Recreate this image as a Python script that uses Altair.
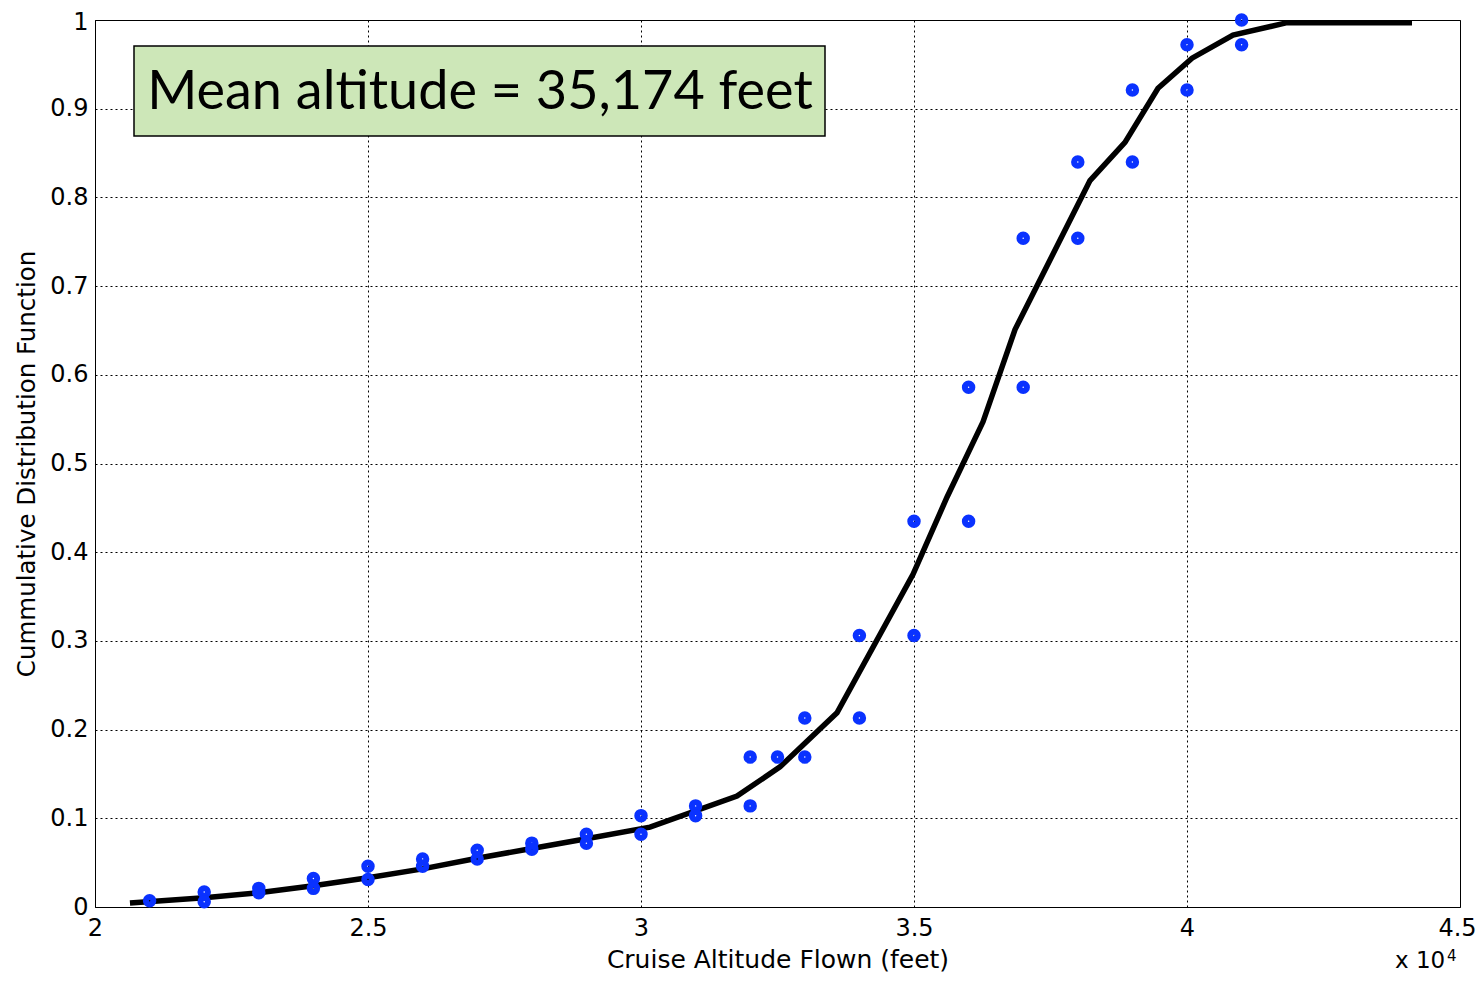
import altair as alt
import pandas as pd

# Observed points (altitude in feet, empirical CDF)
pt_alt = [21000, 22000, 22000, 23000, 23000, 24000, 24000, 25000, 25000,
          26000, 26000, 27000, 27000, 28000, 28000, 29000, 29000, 30000, 30000,
          31000, 31000, 32000, 32000, 32500, 33000, 33000, 34000, 34000,
          35000, 35000, 36000, 36000, 37000, 37000, 38000, 38000, 39000, 39000,
          40000, 40000, 41000, 41000]
pt_cdf = [0.007, 0.017, 0.006, 0.021, 0.016, 0.032, 0.021, 0.046, 0.031,
          0.054, 0.046, 0.064, 0.054, 0.072, 0.065, 0.082, 0.072, 0.103, 0.082,
          0.114, 0.103, 0.169, 0.114, 0.169, 0.213, 0.169, 0.306, 0.213,
          0.435, 0.306, 0.586, 0.435, 0.754, 0.586, 0.840, 0.754, 0.921, 0.840,
          0.972, 0.921, 1.000, 0.972]

# Fitted CDF curve
line_alt = [20640, 22000, 23000, 24000, 25000, 26000, 27000, 28000, 29000,
            30165, 31758, 32546, 33590, 34982, 35604, 36264, 36850, 38223,
            38864, 39469, 40092, 40842, 41832, 44121]
line_cdf = [0.0045, 0.0105, 0.016, 0.024, 0.033, 0.043, 0.055, 0.066, 0.077,
            0.090, 0.125, 0.158, 0.219, 0.375, 0.462, 0.547, 0.651, 0.819,
            0.862, 0.923, 0.957, 0.983, 0.997, 0.997]

x_ticks = [20000, 25000, 30000, 35000, 40000, 45000]
y_ticks = [0, 0.1, 0.2, 0.3, 0.4, 0.5, 0.6, 0.7, 0.8, 0.9, 1.0]

annotation = "Mean altitude = 35,174 feet"

pts = pd.DataFrame({"alt": pt_alt, "cdf": pt_cdf})
fit = pd.DataFrame({"alt": line_alt, "cdf": line_cdf})

FONT = "DejaVu Sans"

xscale = alt.Scale(domain=[20000, 45000], nice=False, zero=False)
yscale = alt.Scale(domain=[0, 1], nice=False)

xaxis = alt.Axis(values=x_ticks, labelExpr="datum.value / 10000",
                 title="Cruise Altitude Flown (feet)", grid=True,
                 gridDash=[2, 3], gridColor="black", gridOpacity=1, gridWidth=1,
                 ticks=False, domain=False, labelFont=FONT, labelFontSize=24,
                 labelColor="black", labelPadding=9, labelFlush=False,
                 labelOffset={"condition": {"test": "datum.value == 45000", "value": -3}, "value": 0},
                 titleFont=FONT, titleFontSize=25, titleFontWeight="normal",
                 titleColor="black", titlePadding=7)
yaxis = alt.Axis(values=y_ticks,
                 labelExpr="datum.value == 0 ? '0' : datum.value == 1 ? '1' : format(datum.value, '.1f')",
                 title="Cummulative Distribution Function", grid=True,
                 gridDash=[2, 3], gridColor="black", gridOpacity=1, gridWidth=1,
                 ticks=False, domain=False, labelFont=FONT, labelFontSize=24,
                 labelColor="black", labelPadding=7, labelFlush=False,
                 labelOffset={"condition": {"test": "datum.value == 1", "value": 2}, "value": 0},
                 titleFont=FONT, titleFontSize=24.5, titleFontWeight="normal",
                 titleColor="black", titlePadding=10)

line = alt.Chart(fit).mark_line(color="black", strokeWidth=5.5, strokeJoin="miter").encode(
    x=alt.X("alt:Q", scale=xscale, axis=xaxis),
    y=alt.Y("cdf:Q", scale=yscale, axis=yaxis),
    order="alt:Q",
)

points = alt.Chart(pts).mark_point(shape="circle", filled=False, color="#0a32ff",
                                   strokeWidth=6, size=56, opacity=1).encode(
    x=alt.X("alt:Q", scale=xscale),
    y=alt.Y("cdf:Q", scale=yscale),
)

one = pd.DataFrame({"t": [annotation]})
box = alt.Chart(one).mark_rect(fill="#cde7b8", stroke="black", strokeWidth=1.5).encode(
    x=alt.value(39), x2=alt.value(730), y=alt.value(26), y2=alt.value(116)
)
box_text = alt.Chart(one).mark_text(font="Lato", fontSize=54, color="black",
                                    align="center", baseline="middle").encode(
    x=alt.value(385), y=alt.value(73), text="t:N"
)

exp_df = pd.DataFrame({"a": ["x 10"], "b": ["4"]})
exp1 = alt.Chart(exp_df).mark_text(font=FONT, fontSize=23, color="black",
                                   align="left", baseline="alphabetic").encode(
    x=alt.value(1300), y=alt.value(948), text="a:N")
exp2 = alt.Chart(exp_df).mark_text(font=FONT, fontSize=15, color="black",
                                   align="left", baseline="alphabetic").encode(
    x=alt.value(1352), y=alt.value(941), text="b:N")

chart = alt.layer(line, points, box, box_text, exp1, exp2).properties(
    width=1365, height=887,
    autosize=alt.AutoSizeParams(type="none"),
    padding={"left": 87, "top": 12, "right": 16, "bottom": 67},
    background="white",
).configure_view(stroke="black", strokeWidth=1)

chart.save("out.html", embed_options={"renderer": "svg", "actions": False})
